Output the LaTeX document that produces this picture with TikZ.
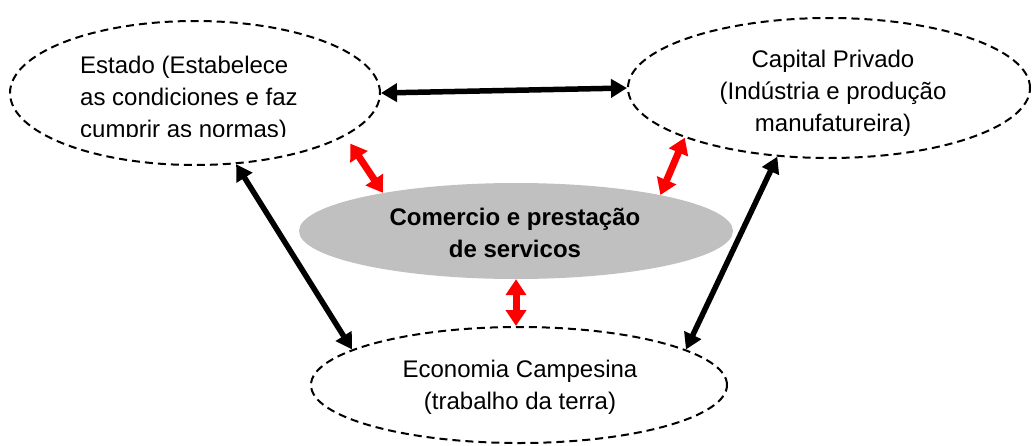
\documentclass[tikz,border=0pt]{standalone}
\usepackage{fontspec}
\setmainfont{Liberation Sans}
\usetikzlibrary{arrows.meta,shapes.geometric}
\definecolor{grayfill}{RGB}{192,192,192}
\begin{document}
\begin{tikzpicture}[x=1pt,y=-1pt,
  dashedell/.style={ellipse,draw=black,line width=2pt,dash pattern=on 8pt off 5pt,inner sep=0pt},
  txt/.style={inner sep=0pt,font=\fontsize{24}{32}\selectfont},
  blackarr/.style={line width=5.5pt,{Triangle[length=16pt,width=18pt]}-{Triangle[length=16pt,width=18pt]}},
  redarr/.style={red,line width=7pt,{Triangle[length=16pt,width=20pt]}-{Triangle[length=16pt,width=20pt]}}]
\useasboundingbox (0,0) rectangle (1033,445);
% ellipses
\node[dashedell,minimum width=370pt,minimum height=144pt] (estado) at (195,93) {};
\node[dashedell,minimum width=402pt,minimum height=140pt] (capital) at (829,88) {};
\node[ellipse,fill=grayfill,inner sep=0pt,minimum width=434pt,minimum height=96pt] (comercio) at (516,231) {};
\node[dashedell,minimum width=416pt,minimum height=116pt] (economia) at (519,385) {};
% texts
\begin{scope}
\clip (0,0) rectangle (1033,136);
\node[txt,align=left,anchor=base west] (estadotxt) at (80,137) {Estado (Estabelece\\as condiciones e faz\\cumprir as normas)};
\end{scope}
\node[txt,align=center,anchor=base] (capitaltxt) at (833,131) {Capital Privado\\(Indústria e produção\\manufatureira)};
\node[txt,align=center,anchor=base,font=\fontsize{24}{32}\selectfont\bfseries] (comerciotxt) at (515,257) {Comercio e prestação\\de servicos};
\node[txt,align=center,anchor=base] (economiatxt) at (520,409) {Economia Campesina\\(trabalho da terra)};
% black arrows
\draw[blackarr] (estado.east) -- (capital.west);
\draw[blackarr] (estado.-60) -- (economia.168);
\draw[blackarr] (capital.-127) -- (economia.12);
% red arrows
\draw[redarr,shorten <=9pt] (estado.-16) -- (comercio.164);
\draw[redarr] (capital.-161) -- (comercio.14);
\draw[redarr] (comercio.south) -- (comercio.south |- economia.north);
\end{tikzpicture}
\end{document}
